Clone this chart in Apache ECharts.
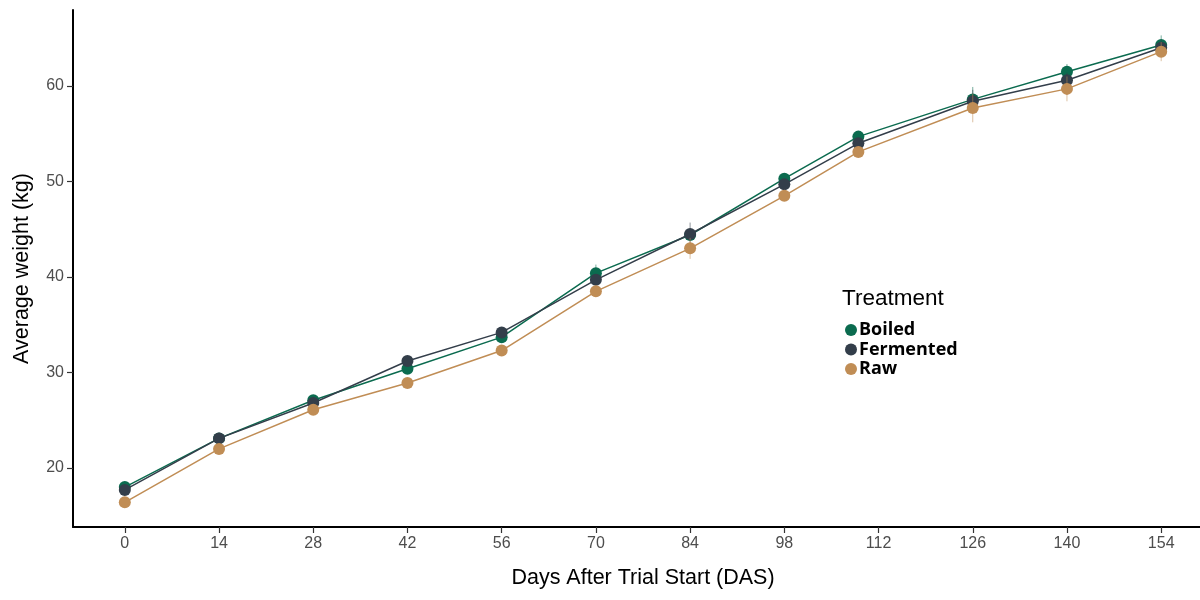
<!DOCTYPE html>
<html>
<head>
<meta charset="utf-8">
<script src="https://cdn.jsdelivr.net/npm/echarts@6/dist/echarts.min.js"></script>
<style>html,body{margin:0;padding:0;background:#fff;}#chart{width:1200px;height:600px;}</style>
</head>
<body>
<div id="chart"></div>
<script>
const days = [0, 14, 28, 42, 56, 70, 84, 98, 109, 126, 140, 154];
const boiled = [18.0, 23.1, 27.1, 30.4, 33.7, 40.4, 44.4, 50.3, 54.7, 58.6, 61.5, 64.3];
const fermented = [17.7, 23.1, 26.8, 31.2, 34.2, 39.7, 44.5, 49.7, 54.0, 58.4, 60.6, 64.0];
const raw = [16.4, 22.0, 26.1, 28.9, 32.3, 38.5, 43.0, 48.5, 53.1, 57.7, 59.7, 63.6];
const boiledErr = [0.4, 0.5, 0.4, 0.5, 0.5, 0.9, 0.6, 0.5, 0.5, 1.3, 0.8, 1.0];
const fermentedErr = [0.4, 0.5, 0.4, 0.5, 0.5, 0.6, 1.2, 0.5, 0.5, 1.2, 0.8, 0.8];
const rawErr = [0.4, 0.5, 0.4, 0.5, 0.5, 0.5, 1.1, 0.5, 0.5, 1.5, 1.3, 1.0];
const xTicks = [0, 14, 28, 42, 56, 70, 84, 98, 112, 126, 140, 154];
const yTicks = [20, 30, 40, 50, 60];
const names = ['Boiled', 'Fermented', 'Raw'];
const colors = ['#0b6b4f', '#333e4a', '#c08d55'];

const chart = echarts.init(document.getElementById('chart'));
const vals = [boiled, fermented, raw];
const errs = [boiledErr, fermentedErr, rawErr];

const series = [];
names.forEach((n, i) => {
  series.push({
    name: n + ' err',
    type: 'custom',
    silent: true,
    z: 2 + i * 3,
    data: days.map((d, k) => [d, vals[i][k] - errs[i][k], vals[i][k] + errs[i][k]]),
    renderItem: function (params, api) {
      const lo = api.coord([api.value(0), api.value(1)]);
      const hi = api.coord([api.value(0), api.value(2)]);
      return {
        type: 'line',
        shape: { x1: lo[0], y1: lo[1], x2: hi[0], y2: hi[1] },
        style: { stroke: colors[i], lineWidth: 1, opacity: 0.55 }
      };
    }
  });
  series.push({
    name: n,
    type: 'line',
    z: 3 + i * 3,
    data: days.map((d, k) => [d, vals[i][k]]),
    symbol: 'circle',
    symbolSize: 12,
    showSymbol: true,
    itemStyle: { color: colors[i] },
    lineStyle: { color: colors[i], width: 1.5 },
    animation: false
  });
});

const option = {
  animation: false,
  backgroundColor: '#ffffff',
  grid: { left: 73, right: -13, top: 10, bottom: 73, containLabel: false, outerBoundsMode: 'none' },
  xAxis: {
    type: 'value',
    min: -7.7,
    max: 161.7,
    name: 'Days After Trial Start (DAS)',
    nameLocation: 'middle',
    nameGap: 40,
    nameTextStyle: { fontFamily: 'Liberation Sans', fontSize: 21.5, color: '#000' },
    axisLine: { show: true, onZero: false, lineStyle: { color: '#000', width: 2 } },
    axisTick: { show: true, length: 6, lineStyle: { color: '#333', width: 1.2 }, customValues: xTicks },
    axisLabel: { fontFamily: 'Liberation Sans', fontSize: 16, color: '#4d4d4d', margin: 9, customValues: xTicks },
    splitLine: { show: false }
  },
  yAxis: {
    type: 'value',
    min: 13.82,
    max: 67.96,
    name: 'Average weight (kg)',
    nameLocation: 'middle',
    nameGap: 40,
    nameRotate: 90,
    nameTextStyle: { fontFamily: 'Liberation Sans', fontSize: 21.5, color: '#000' },
    axisLine: { show: true, onZero: false, lineStyle: { color: '#000', width: 2 } },
    axisTick: { show: true, length: 6, lineStyle: { color: '#333', width: 1.2 }, customValues: yTicks },
    axisLabel: { fontFamily: 'Liberation Sans', fontSize: 16, color: '#4d4d4d', margin: 9, customValues: yTicks },
    splitLine: { show: false }
  },
  legend: {
    data: names.map((n, i) => ({ name: n, icon: 'circle', itemStyle: { color: colors[i] } })),
    orient: 'vertical',
    left: 845,
    top: 321,
    itemWidth: 12,
    itemHeight: 12,
    itemGap: 1.5,
    padding: 0,
    selectedMode: false,
    textStyle: { fontFamily: 'Open Sans', fontWeight: 'bold', fontSize: 18, color: '#000', padding: [0, 0, 0, -3] }
  },
  graphic: [{
    type: 'text',
    left: 842,
    top: 287,
    style: { text: 'Treatment', fontFamily: 'Liberation Sans', fontSize: 22.5, fill: '#000' }
  }],
  series: series
};
chart.setOption(option);
</script>
</body>
</html>
